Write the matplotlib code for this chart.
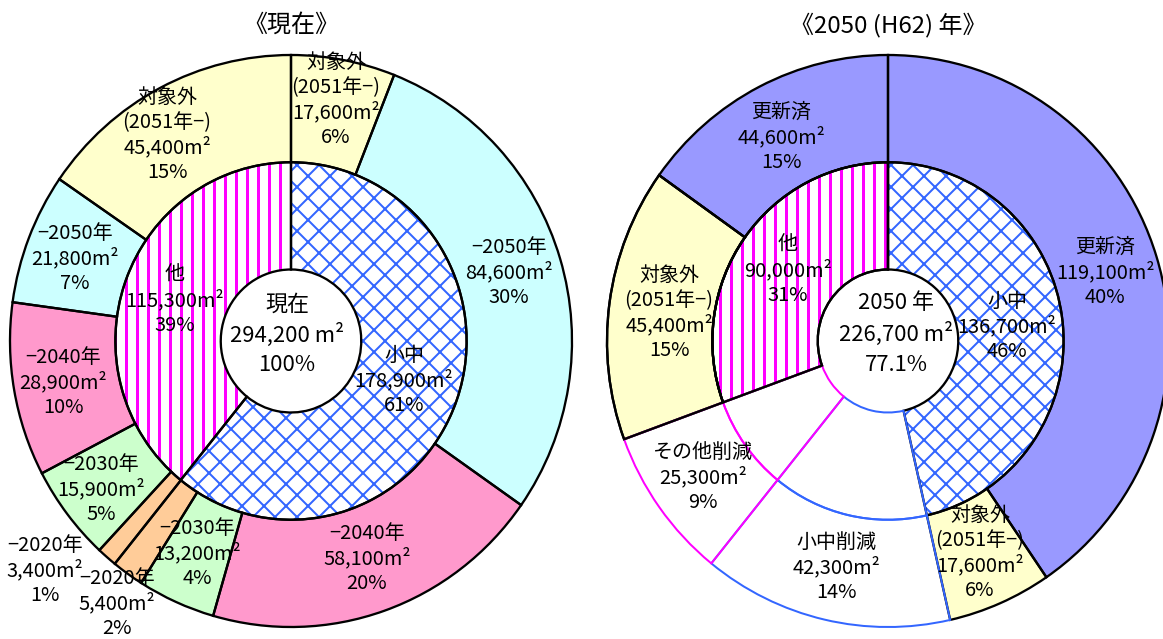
import matplotlib
matplotlib.use("Agg")
import matplotlib.pyplot as plt

plt.rcParams["font.family"] = ["Noto Sans CJK JP", "DejaVu Sans"]

W, H = 1163, 639
DPI = 66            # hatch period = DPI / 6 px, ~11 px like the original
PT = 72 / DPI       # px -> pt

# ---- 現在 ----
NOW_OUTER_NAMES = ["対象外\n(2051年−)", "−2050年", "−2040年", "−2030年", "−2020年",
                   "−2020年", "−2030年", "−2040年", "−2050年", "対象外\n(2051年−)"]
NOW_OUTER_AREA = [17600, 84600, 58100, 13200, 5400, 3400, 15900, 28900, 21800, 45400]
NOW_OUTER_PCT = [6, 30, 20, 4, 2, 1, 5, 10, 7, 15]
NOW_INNER_NAMES = ["小中", "他"]
NOW_INNER_AREA = [178900, 115300]
NOW_INNER_PCT = [61, 39]
NOW_CENTER = ["現在", "294,200 m²", "100%"]

# ---- 2050 (H62) ----
FUT_OUTER_NAMES = ["更新済", "対象外\n(2051年−)", "小中削減", "その他削減",
                   "対象外\n(2051年−)", "更新済"]
FUT_OUTER_AREA = [119100, 17600, 42300, 25300, 45400, 44600]
FUT_OUTER_PCT = [40, 6, 14, 9, 15, 15]
FUT_INNER_NAMES = ["小中", "", "", "他"]
FUT_INNER_AREA = [136700, 42300, 25300, 90000]
FUT_INNER_PCT = [46, None, None, 31]
FUT_CENTER = ["2050 年", "226,700 m²", "77.1%"]

YELLOW, CYAN, PINK, GREEN, ORANGE = "#ffffcc", "#ccffff", "#ff99cc", "#ccffcc", "#ffcc99"
PURPLE, BLUE, MAGENTA = "#9999ff", "#3366ff", "#ff00ff"

NOW_OUTER_COLORS = [YELLOW, CYAN, PINK, GREEN, ORANGE, ORANGE, GREEN, PINK, CYAN, YELLOW]
FUT_OUTER_COLORS = [PURPLE, YELLOW, "white", "white", YELLOW, PURPLE]
NOW_INNER_HATCH = [("x", BLUE), ("|", MAGENTA)]
FUT_INNER_HATCH = [("x", BLUE), (None, None), (None, None), ("|", MAGENTA)]

# label offsets from the chart centre, in pixels (right, up)
NOW_OUTER_POS = [(45, 241), (218, 69), (76, -217), (-94, -212), (-174, -262),
                 (-246, -229), (-190, -148), (-228, -41), (-216, 83), (-124, 206)]
NOW_INNER_POS = [(113, -39), (-116, 41)]
FUT_OUTER_POS = [(217, 69), (92, -212), (-52, -226), (-185, -136), (-219, 28), (-107, 204)]
FUT_INNER_POS = [(119, 15), None, None, (-100, 71)]

RX, RY = 281, 286          # outer radius in px (the original is a bit oval)
R_MID = 0.625              # inner ring outer radius
R_HOLE = 0.25
LW = 2.3 * PT
LABEL_FS = 20 * PT
CENTER_FS = 22 * PT
TITLE_FS = 24 * PT


def ring(ax, values, radius, width, **props):
    wedges, _ = ax.pie(values, radius=radius, startangle=90, counterclock=False,
                       wedgeprops=dict(width=width, **props))
    return wedges


def outline(ax, values, radius, width, keep, color, lw=LW):
    wedges = ring(ax, values, radius, width, fill=False, edgecolor=color, linewidth=lw)
    for w, k in zip(wedges, keep):
        w.set_visible(k)


def put_text(ax, dx, dy, lines, size, step):
    n = len(lines)
    for i, s in enumerate(lines):
        ax.annotate(s, xy=(0, 0), xycoords="data",
                    xytext=(dx, dy - (i - (n - 1) / 2) * step),
                    textcoords="offset pixels", ha="center", va="center",
                    fontsize=size, zorder=10, annotation_clip=False)


def make_axes(fig, cx, cy):
    half = 300
    ax = fig.add_axes([(cx - half) / W, (H - cy - half) / H, 2 * half / W, 2 * half / H])
    return ax


def finish_axes(ax):
    ax.set_aspect("auto")
    ax.set_xlim(-300 / RX, 300 / RX)
    ax.set_ylim(-300 / RY, 300 / RY)
    ax.axis("off")


def fill_rings(ax, outer_vals, outer_colors, inner_vals, inner_hatch):
    wedges = ring(ax, outer_vals, 1.0, 1.0 - R_MID, linewidth=0)
    for w, c in zip(wedges, outer_colors):
        w.set_facecolor(c)
    wedges = ring(ax, inner_vals, R_MID, R_MID - R_HOLE, facecolor="white", linewidth=0)
    for w, (hatch, col) in zip(wedges, inner_hatch):
        if hatch is None:
            continue
        w.set_edgecolor(col)
        w.set_hatch(hatch)
        hlw = (3.0 if hatch == "|" else 2.0) * PT
        if hasattr(w, "set_hatch_linewidth"):
            w.set_hatch_linewidth(hlw)
        else:
            plt.rcParams["hatch.linewidth"] = hlw


def block(name, area, pct):
    lines = name.split("\n") if name else []
    lines.append(f"{area:,}m²")
    lines.append(f"{pct}%")
    return lines


fig = plt.figure(figsize=((W + 0.001) / DPI, (H + 0.001) / DPI), dpi=DPI)

# ---------- left : 現在 ----------
cx, cy = 291, 341
ax = make_axes(fig, cx, cy)
fill_rings(ax, NOW_OUTER_AREA, NOW_OUTER_COLORS, NOW_INNER_AREA, NOW_INNER_HATCH)
outline(ax, NOW_OUTER_AREA, 1.0, 1.0 - R_MID, [True] * len(NOW_OUTER_AREA), "black")
outline(ax, NOW_INNER_AREA, R_MID, R_MID - R_HOLE, [True] * len(NOW_INNER_AREA), "black")
finish_axes(ax)

for name, area, pct, (dx, dy) in zip(NOW_OUTER_NAMES, NOW_OUTER_AREA, NOW_OUTER_PCT, NOW_OUTER_POS):
    put_text(ax, dx, dy, block(name, area, pct), LABEL_FS, 25)
for name, area, pct, (dx, dy) in zip(NOW_INNER_NAMES, NOW_INNER_AREA, NOW_INNER_PCT, NOW_INNER_POS):
    put_text(ax, dx, dy, block(name, area, pct), LABEL_FS, 25)
put_text(ax, -4, 6, NOW_CENTER, CENTER_FS, 30)
fig.text(cx / W, 1 - 25 / H, "《現在》", ha="center", va="center", fontsize=TITLE_FS)

# ---------- right : 2050 ----------
cx, cy = 888, 341
ax = make_axes(fig, cx, cy)
fill_rings(ax, FUT_OUTER_AREA, FUT_OUTER_COLORS, FUT_INNER_AREA, FUT_INNER_HATCH)
# black outlines except the two reduction wedges
outline(ax, FUT_OUTER_AREA, 1.0, 1.0 - R_MID, [True, True, False, False, True, True], "black")
outline(ax, FUT_INNER_AREA, R_MID, R_MID - R_HOLE, [True, False, False, True], "black")
# 小中削減 in blue, その他削減 in magenta
outline(ax, FUT_OUTER_AREA, 1.0, 1.0 - R_MID, [False, False, True, False, False, False], BLUE, 2 * PT)
outline(ax, FUT_INNER_AREA, R_MID, R_MID - R_HOLE, [False, True, False, False], BLUE, 2 * PT)
outline(ax, FUT_OUTER_AREA, 1.0, 1.0 - R_MID, [False, False, False, True, False, False], MAGENTA, 2 * PT)
outline(ax, FUT_INNER_AREA, R_MID, R_MID - R_HOLE, [False, False, True, False], MAGENTA, 2 * PT)
# the 他 / 対象外 boundary stays black on top
outline(ax, FUT_OUTER_AREA, 1.0, 1.0 - R_MID, [False, False, False, False, True, False], "black")
outline(ax, FUT_INNER_AREA, R_MID, R_MID - R_HOLE, [False, False, False, True], "black")
finish_axes(ax)

for name, area, pct, (dx, dy) in zip(FUT_OUTER_NAMES, FUT_OUTER_AREA, FUT_OUTER_PCT, FUT_OUTER_POS):
    put_text(ax, dx, dy, block(name, area, pct), LABEL_FS, 25)
for name, area, pct, pos in zip(FUT_INNER_NAMES, FUT_INNER_AREA, FUT_INNER_PCT, FUT_INNER_POS):
    if pos is None:
        continue
    put_text(ax, pos[0], pos[1], block(name, area, pct), LABEL_FS, 25)
put_text(ax, 8, 7, FUT_CENTER, CENTER_FS, 31)
fig.text(cx / W, 1 - 25 / H, "《2050 (H62) 年》", ha="center", va="center", fontsize=TITLE_FS)

fig.savefig("out.png", dpi=DPI)
